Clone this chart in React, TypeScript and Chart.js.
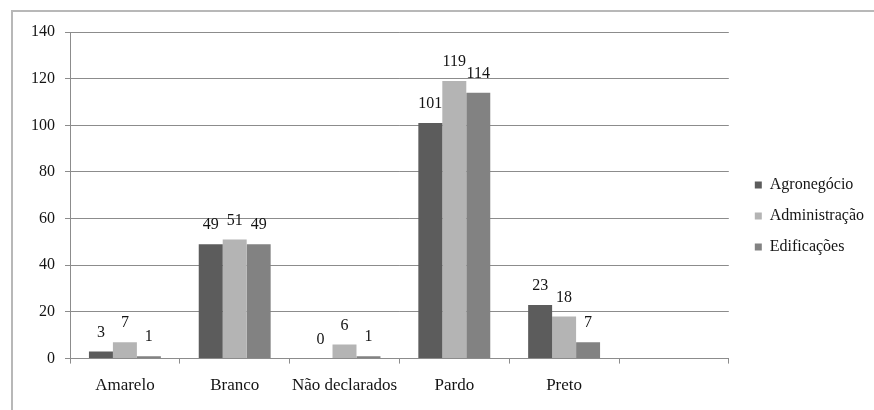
import React, { useEffect, useRef } from "react";
import { Chart, registerables } from "chart.js";

Chart.register(...registerables);

const categories = ["Amarelo", "Branco", "Não declarados", "Pardo", "Preto", ""];
const seriesNames = ["Agronegócio", "Administração", "Edificações"];
const agronegocio = [3, 49, 0, 101, 23, null];
const administracao = [7, 51, 6, 119, 18, null];
const edificacoes = [1, 49, 1, 114, 7, null];
const seriesColors = ["#5c5c5c", "#b4b4b4", "#828282"];
const yMin = 0;
const yMax = 140;
const yStep = 20;

const FONT = "'Liberation Serif', 'Times New Roman', serif";
const GRID = "#8c8c8c";

const dataLabels = {
  id: "dataLabels",
  afterDatasetsDraw(chart: any) {
    const ctx = chart.ctx;
    ctx.save();
    ctx.font = `16px ${FONT}`;
    ctx.fillStyle = "#141414";
    ctx.textAlign = "center";
    ctx.textBaseline = "middle";
    chart.data.datasets.forEach((ds: any, di: number) => {
      const meta = chart.getDatasetMeta(di);
      meta.data.forEach((el: any, i: number) => {
        const v = ds.data[i];
        if (v === null || v === undefined) return;
        ctx.fillText(String(v), el.x, el.y - 19);
      });
    });
    ctx.restore();
  },
};

export default function App() {
  const ref = useRef<HTMLCanvasElement>(null);
  useEffect(() => {
    if (!ref.current) return;
    const seriesData = [agronegocio, administracao, edificacoes];
    const chart = new Chart(ref.current, {
      type: "bar",
      data: {
        labels: categories,
        datasets: seriesNames.map((name, i) => ({
          label: name,
          data: seriesData[i] as any,
          backgroundColor: seriesColors[i],
          borderWidth: 0,
          categoryPercentage: 0.655,
          barPercentage: 1,
          yAxisID: "y",
        })),
      },
      options: {
        animation: false,
        responsive: false,
        devicePixelRatio: 1,
        layout: { padding: { left: 0, top: 32, right: 0, bottom: 10 } },
        plugins: {
          tooltip: { enabled: false },
          legend: {
            position: "right",
            align: "center",
            labels: {
              boxWidth: 7,
              boxHeight: 7,
              padding: 15,
              color: "#141414",
              font: { family: FONT, size: 16 },
            },
          },
        },
        scales: {
          x: {
            afterFit: (s: any) => {
              s.height = s.height - 8;
            },
            grid: {
              display: true,
              drawOnChartArea: false,
              drawTicks: true,
              tickLength: 5,
              color: GRID,
              offset: true,
            },
            border: { display: true, color: GRID },
            ticks: {
              color: "#141414",
              padding: 12,
              maxRotation: 0,
              autoSkip: false,
              font: { family: FONT, size: 17 },
            },
          },
          y: {
            min: yMin,
            max: yMax,
            afterFit: (s: any) => {
              s.width = 70;
            },
            grid: { color: GRID, tickLength: 5, drawTicks: true },
            border: { display: true, color: GRID },
            ticks: {
              stepSize: yStep,
              color: "#141414",
              padding: 10,
              font: { family: FONT, size: 16 },
            },
          },
          spacer: {
            type: "linear",
            position: "right",
            display: true,
            afterFit: (s: any) => {
              s.width = 11;
            },
            grid: { display: false },
            border: { display: false },
            ticks: { display: false },
          },
        },
      } as any,
      plugins: [dataLabels],
    });
    return () => chart.destroy();
  }, []);

  return (
    <div
      style={{
        position: "fixed",
        left: 0,
        top: 0,
        width: 874,
        height: 410,
        overflow: "hidden",
        background: "#fff",
      }}
    >
      <div
        style={{
          position: "absolute",
          left: 11,
          top: 10,
          width: 950,
          height: 500,
          border: "2px solid #b8b8b8",
          boxSizing: "border-box",
        }}
      />
      <canvas
        ref={ref}
        width={874}
        height={410}
        style={{ position: "absolute", left: 0, top: 0, width: 874, height: 410 }}
      />
    </div>
  );
}
